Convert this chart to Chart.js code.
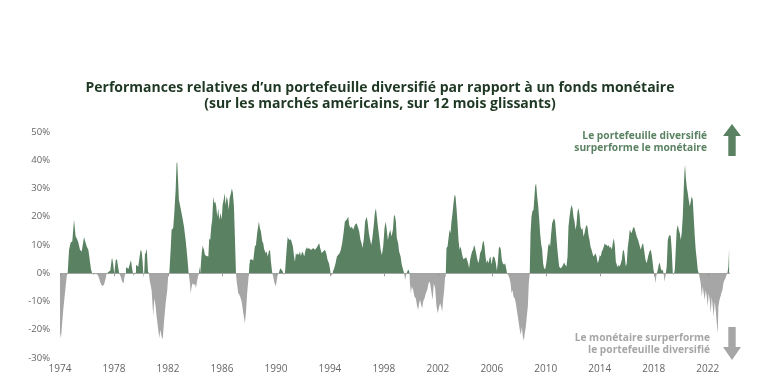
<!DOCTYPE html>
<html>
<head>
<meta charset="utf-8">
<script src="https://cdn.jsdelivr.net/npm/chart.js@4"></script>
<style>
  html, body { margin: 0; padding: 0; background: #fff; }
  #wrap { position: relative; width: 760px; height: 384px; }
  #title {
    position: absolute; left: 0; top: 79px; width: 760px;
    text-align: center; font: 700 14px "Open Sans"; line-height: 16px;
    color: #1e3823;
  }
</style>
</head>
<body>
<div id="wrap">
  <div id="title">Performances relatives d’un portefeuille diversifié par rapport à un fonds monétaire<br>(sur les marchés américains, sur 12 mois glissants)</div>
  <canvas id="chart" width="760" height="384"></canvas>
</div>
<script>
// relative performance (%): [date in decimal years, value]
const readings = [
  [1974.00,-21],[1974.07,-23],[1974.24,-13],[1974.50,-1],[1974.57,0],[1974.67,8.3],[1974.79,10.9],[1974.91,11.2],
  [1975.04,18.9],[1975.16,13],[1975.24,12.4],[1975.36,10.9],[1975.48,8.3],[1975.61,7.7],[1975.78,12.8],[1975.85,11.5],
  [1975.98,9.5],[1976.10,8.3],[1976.17,5.9],[1976.30,1.2],[1976.39,0],[1976.47,-0.6],[1976.59,0],[1976.72,-0.3],
  [1976.84,-1],[1977.01,-3.5],[1977.13,-4.5],[1977.26,-4.1],[1977.39,-1.8],[1977.46,0],[1977.53,0.2],[1977.63,0.6],
  [1977.73,1],[1977.83,5],[1977.87,5.3],[1977.95,3],[1978.02,-0.3],[1978.13,4.7],[1978.22,5],[1978.32,1.8],
  [1978.39,0],[1978.50,-1.2],[1978.61,-3],[1978.72,-3.5],[1978.76,-1.8],[1978.84,0],[1978.89,1.8],[1978.96,2.1],
  [1979.06,1.4],[1979.16,3],[1979.26,4.7],[1979.33,2.1],[1979.41,-0.2],[1979.46,-1],[1979.56,0.2],[1979.63,3],
  [1979.73,2.6],[1979.80,2.4],[1979.90,5.9],[1979.98,8.3],[1980.05,7.7],[1980.13,3.5],[1980.17,0],[1980.20,-1.8],
  [1980.24,0],[1980.30,7.1],[1980.37,8.7],[1980.44,7.7],[1980.52,0.6],[1980.59,0],[1980.64,-2.4],[1980.79,-6],
  [1980.91,-15],[1980.99,-8.9],[1981.09,-11.8],[1981.16,-15.4],[1981.28,-20],[1981.36,-23],[1981.43,-20],[1981.53,-22.5],
  [1981.61,-23.4],[1981.70,-17.7],[1981.83,-10.6],[1981.95,-5.9],[1982.02,-0.6],[1982.10,0],[1982.20,8.3],[1982.27,15.4],
  [1982.39,16],[1982.47,21.3],[1982.57,29.6],[1982.64,39],[1982.69,39.2],[1982.76,31.9],[1982.81,26],[1982.94,23],
  [1983.06,20],[1983.19,16.5],[1983.31,11.8],[1983.43,5.9],[1983.53,0.2],[1983.63,-3.5],[1983.68,-7.1],[1983.76,-4.7],
  [1983.83,-3.5],[1983.93,-4.1],[1984.00,-3.5],[1984.07,-5.3],[1984.15,-3],[1984.22,-1.2],[1984.30,0],[1984.32,2.4],
  [1984.39,0],[1984.50,7.1],[1984.57,9.7],[1984.67,8.3],[1984.74,6.5],[1984.87,6.1],[1984.99,5.9],[1985.06,12.4],
  [1985.13,11.8],[1985.21,16.5],[1985.28,18.9],[1985.36,27.2],[1985.43,24.8],[1985.50,25.4],[1985.58,23.6],[1985.65,20],
  [1985.73,23],[1985.80,18.9],[1985.90,21.3],[1985.98,18.9],[1986.05,24.2],[1986.13,26],[1986.20,28.4],[1986.27,24.2],
  [1986.35,27.2],[1986.42,26],[1986.50,22.5],[1986.57,26.6],[1986.64,27.8],[1986.74,30.1],[1986.81,28.4],[1986.89,23.6],
  [1986.96,13],[1987.04,0],[1987.11,-3.5],[1987.21,-7],[1987.33,-8],[1987.46,-10],[1987.58,-14],[1987.70,-17.7],
  [1987.78,-14],[1987.87,-7],[1987.98,-1],[1988.00,0],[1988.04,3.5],[1988.07,4.7],[1988.20,5],[1988.32,4.5],
  [1988.44,9.5],[1988.52,10],[1988.61,14.2],[1988.74,18.3],[1988.81,16],[1988.89,14.8],[1988.99,11.2],[1989.06,10.6],
  [1989.13,8.5],[1989.24,7.1],[1989.31,7.7],[1989.39,5.9],[1989.48,7.7],[1989.56,8.3],[1989.63,4.1],[1989.73,0],
  [1989.80,-1.2],[1989.87,-3],[1989.98,-4.7],[1990.05,-3],[1990.13,-0.6],[1990.22,0.2],[1990.32,1.8],[1990.42,1.2],
  [1990.50,0.6],[1990.59,-0.6],[1990.67,0],[1990.79,8.3],[1990.87,12.8],[1990.96,12],[1991.04,11.8],[1991.11,12],
  [1991.19,10.6],[1991.26,9.5],[1991.33,6.5],[1991.41,4.1],[1991.48,7.1],[1991.56,6.5],[1991.63,7.1],[1991.70,6.5],
  [1991.78,7.7],[1991.85,6.1],[1991.95,7.7],[1992.02,7.1],[1992.10,5.9],[1992.20,8.3],[1992.30,9.2],[1992.37,8.5],
  [1992.44,8.9],[1992.54,8.5],[1992.64,8.3],[1992.76,8.9],[1992.89,8.3],[1993.01,8.9],[1993.13,10],[1993.21,10.6],
  [1993.28,8.9],[1993.39,7.1],[1993.50,7.7],[1993.63,8.3],[1993.73,7.1],[1993.83,4.7],[1993.93,3.5],[1994.02,1.2],
  [1994.07,-1],[1994.17,-0.3],[1994.22,0.6],[1994.32,1.8],[1994.42,3.5],[1994.52,5.9],[1994.61,6.5],[1994.72,7.1],
  [1994.81,8.3],[1994.91,10.6],[1995.01,14.2],[1995.11,18.3],[1995.24,18.9],[1995.36,20],[1995.43,17.1],[1995.53,16],
  [1995.63,16.5],[1995.73,15.4],[1995.85,17.1],[1995.98,17.7],[1996.10,16],[1996.17,14.8],[1996.27,11.8],[1996.35,10.6],
  [1996.42,8.9],[1996.52,12.4],[1996.61,18.3],[1996.72,20],[1996.79,18.3],[1996.89,14.2],[1996.96,12.4],[1997.06,10],
  [1997.13,11.8],[1997.24,16.5],[1997.33,21.3],[1997.41,23],[1997.48,20],[1997.56,16.5],[1997.65,13],[1997.76,8.3],
  [1997.85,6.5],[1997.95,9.5],[1998.05,16],[1998.13,18.3],[1998.20,16],[1998.30,11.8],[1998.39,14.2],[1998.47,15.4],
  [1998.57,13],[1998.67,15.4],[1998.74,20],[1998.81,20.7],[1998.89,18.3],[1998.96,12.4],[1999.06,10.6],[1999.13,7.7],
  [1999.24,5.9],[1999.33,3],[1999.43,1.2],[1999.50,0],[1999.58,-2.4],[1999.65,-0.6],[1999.76,0.9],[1999.85,1.2],
  [1999.90,0],[1999.93,-3.5],[2000.00,-7.1],[2000.07,-4.7],[2000.17,-5.9],[2000.27,-8.3],[2000.37,-8.9],[2000.47,-11.8],
  [2000.54,-13],[2000.61,-10.6],[2000.69,-9.5],[2000.76,-11.2],[2000.84,-12.4],[2000.91,-10],[2001.01,-8.9],[2001.11,-7.1],
  [2001.21,-5.9],[2001.31,-3.5],[2001.41,-3],[2001.50,-5.9],[2001.61,-9.5],[2001.70,-3.5],[2001.80,-5.3],[2001.90,-11.8],
  [2002.00,-14.2],[2002.10,-11.8],[2002.17,-10.6],[2002.24,-11.8],[2002.32,-13.6],[2002.39,-9.5],[2002.47,-5.9],[2002.54,-1.2],
  [2002.59,0],[2002.64,8.9],[2002.72,9.5],[2002.79,12.4],[2002.87,15.4],[2002.94,14.2],[2003.01,18.3],[2003.09,21.3],
  [2003.16,24.8],[2003.24,27.8],[2003.31,27.2],[2003.39,22.5],[2003.46,17.7],[2003.53,11.8],[2003.61,8.3],[2003.68,9.5],
  [2003.76,7.7],[2003.83,5.9],[2003.90,5],[2004.00,5.3],[2004.10,5.7],[2004.17,4.7],[2004.24,3.5],[2004.32,1.8],
  [2004.39,4.7],[2004.47,6.5],[2004.54,7.7],[2004.61,8.3],[2004.69,10],[2004.76,8.9],[2004.84,7.1],[2004.91,5.3],
  [2004.99,3.5],[2005.06,4.7],[2005.13,7.1],[2005.24,8.3],[2005.31,10.6],[2005.39,11.6],[2005.46,9.5],[2005.53,5.9],
  [2005.61,3.5],[2005.68,4.7],[2005.76,3.5],[2005.83,5.3],[2005.90,5.9],[2005.98,3],[2006.07,5.7],[2006.15,5.9],
  [2006.22,5.3],[2006.30,3.5],[2006.37,0.9],[2006.44,3.5],[2006.52,8.9],[2006.59,9.5],[2006.67,8.3],[2006.74,4.7],
  [2006.81,3.5],[2006.91,3],[2006.99,3.5],[2007.06,1.8],[2007.13,0],[2007.21,-0.6],[2007.31,-1.8],[2007.39,-3.5],
  [2007.46,-7.1],[2007.53,-5.9],[2007.61,-8.3],[2007.70,-8.9],[2007.78,-10.6],[2007.85,-13],[2007.93,-15.4],[2008.00,-17.7],
  [2008.07,-20],[2008.15,-21.8],[2008.22,-18.9],[2008.30,-22.5],[2008.37,-23.9],[2008.44,-21.3],[2008.52,-18.9],[2008.59,-15.4],
  [2008.67,-11.8],[2008.74,-3.5],[2008.81,0],[2008.87,14.2],[2008.94,20],[2009.01,22],[2009.09,22.5],[2009.16,27.2],
  [2009.21,30.7],[2009.28,31.9],[2009.36,27.2],[2009.43,24.2],[2009.50,20],[2009.58,14.2],[2009.65,10.6],[2009.73,8.3],
  [2009.80,3.5],[2009.87,1.8],[2009.95,1.4],[2010.02,3],[2010.10,5.9],[2010.17,9.5],[2010.24,10.6],[2010.32,9.5],
  [2010.39,13.6],[2010.47,17.7],[2010.54,18.7],[2010.61,19.5],[2010.69,18.3],[2010.76,14.2],[2010.84,9.5],[2010.91,5.9],
  [2010.99,2.4],[2011.09,1.8],[2011.19,2.1],[2011.28,3],[2011.36,3.8],[2011.43,3],[2011.53,2.4],[2011.61,5.9],
  [2011.68,16.5],[2011.76,20],[2011.83,22.5],[2011.90,24.2],[2011.98,23],[2012.05,20],[2012.13,18.3],[2012.20,15.4],
  [2012.27,17.1],[2012.35,21.9],[2012.42,23],[2012.50,20.7],[2012.57,16.5],[2012.64,15.4],[2012.72,16],[2012.79,13],
  [2012.87,14.2],[2012.94,16],[2013.01,17.1],[2013.09,16.5],[2013.16,13.6],[2013.24,11.8],[2013.31,9.5],[2013.39,8.3],
  [2013.46,7.1],[2013.53,5.9],[2013.61,6.5],[2013.68,7.1],[2013.76,5.9],[2013.85,3.5],[2013.93,4.7],[2014.00,6.5],
  [2014.07,5.9],[2014.15,7.7],[2014.22,8.3],[2014.30,9.5],[2014.37,10.6],[2014.44,10],[2014.52,10],[2014.59,9.5],
  [2014.67,10],[2014.74,8.9],[2014.81,9.5],[2014.89,8.3],[2014.96,10.6],[2015.04,12.4],[2015.11,10],[2015.19,4.1],
  [2015.26,3],[2015.33,2.1],[2015.41,3],[2015.48,2.4],[2015.56,3.5],[2015.63,4.7],[2015.70,7.7],[2015.78,8.3],
  [2015.85,5.9],[2015.93,2.4],[2016.00,3.5],[2016.07,9],[2016.15,12],[2016.22,15.4],[2016.35,14.2],[2016.47,16],
  [2016.54,16.5],[2016.64,14.8],[2016.74,13],[2016.84,11.8],[2016.94,10],[2017.04,8.3],[2017.13,10],[2017.21,10.6],
  [2017.28,8.3],[2017.39,4.7],[2017.48,3.5],[2017.58,5.9],[2017.68,7.7],[2017.78,8.3],[2017.87,5.9],[2017.98,1.2],
  [2018.05,-0.6],[2018.13,-3.5],[2018.20,-0.6],[2018.30,1.2],[2018.37,3],[2018.44,3.8],[2018.52,1.8],[2018.59,0.9],
  [2018.67,1.2],[2018.74,-0.6],[2018.81,-3],[2018.89,-0.2],[2018.96,2.4],[2019.04,11.8],[2019.11,13],[2019.19,13.6],
  [2019.26,13],[2019.33,8.3],[2019.41,0],[2019.48,-0.6],[2019.56,1.2],[2019.63,8.3],[2019.70,15.4],[2019.78,17.1],
  [2019.85,15.4],[2019.93,14.2],[2020.00,11.8],[2020.07,14.2],[2020.15,20],[2020.22,29.6],[2020.27,35.5],[2020.32,38.4],
  [2020.37,34.3],[2020.44,30.7],[2020.52,28.4],[2020.59,26],[2020.67,23.6],[2020.74,25.4],[2020.81,27.2],[2020.89,26],
  [2020.96,20],[2021.04,13],[2021.11,8.3],[2021.19,4.7],[2021.26,1.2],[2021.33,0],[2021.41,-1.8],[2021.48,-3.5],
  [2021.56,-8.3],[2021.63,-4.7],[2021.70,-7.1],[2021.78,-9.5],[2021.85,-5.9],[2021.93,-8.3],[2022.00,-11.8],[2022.07,-7.1],
  [2022.15,-9.5],[2022.22,-14.2],[2022.30,-8.3],[2022.37,-11.8],[2022.44,-15.4],[2022.52,-10],[2022.59,-13],[2022.67,-17.7],
  [2022.74,-21.3],[2022.79,-11.8],[2022.87,-9.5],[2022.94,-8.3],[2023.01,-7.1],[2023.09,-5.9],[2023.16,-3.5],[2023.24,-2.4],
  [2023.31,-1.8],[2023.39,-0.6],[2023.46,0],[2023.53,2.4],[2023.58,8.3],[2023.61,10]
];

const tickYears = [1974, 1978, 1982, 1986, 1990, 1994, 1998, 2002, 2006, 2010, 2014, 2018, 2022];
const yTicks = [-30, -20, -10, 0, 10, 20, 30, 40, 50];

const upLabel = ['Le portefeuille diversifié', 'surperforme le monétaire'];
const downLabel = ['Le monétaire surperforme', 'le portefeuille diversifié'];

const GREEN = '#5a8262';
const GREY = '#a6a6a6';
const AXIS_TEXT = '#666';

// small ticks on the zero line + the two side notes with arrows
const notesPlugin = {
  id: 'notes',
  afterDatasetsDraw(chart) {
    const { ctx, chartArea, scales } = chart;
    const y0 = scales.y.getPixelForValue(0);

    ctx.save();
    ctx.strokeStyle = '#999';
    ctx.lineWidth = 1;
    tickYears.forEach(v => {
      const x = Math.round(scales.x.getPixelForValue(v)) + 0.5;
      ctx.beginPath();
      ctx.moveTo(x, y0);
      ctx.lineTo(x, y0 + 3);
      ctx.stroke();
    });

    const squeeze = (txt, x, y) => {
      ctx.save();
      ctx.translate(x, y);
      ctx.scale(0.93, 1);
      ctx.fillText(txt, 0, 0);
      ctx.restore();
    };
    ctx.font = '700 11px "Open Sans"';
    ctx.textAlign = 'right';
    ctx.textBaseline = 'middle';

    const xr = chartArea.right - 23;
    const topY = chartArea.top;
    ctx.fillStyle = GREEN;
    squeeze(upLabel[0], xr, topY + 4);
    squeeze(upLabel[1], xr, topY + 16);

    const botY = chartArea.bottom;
    ctx.fillStyle = GREY;
    squeeze(downLabel[0], xr + 3, botY - 20);
    squeeze(downLabel[1], xr + 3, botY - 8);

    // arrows
    const ax = chartArea.right + 2;
    ctx.fillStyle = GREEN;
    ctx.beginPath();
    ctx.moveTo(ax, topY - 8);
    ctx.lineTo(ax + 9, topY + 4);
    ctx.lineTo(ax + 3.7, topY + 4);
    ctx.lineTo(ax + 3.7, topY + 24);
    ctx.lineTo(ax - 3.7, topY + 24);
    ctx.lineTo(ax - 3.7, topY + 4);
    ctx.lineTo(ax - 9, topY + 4);
    ctx.closePath();
    ctx.fill();

    ctx.fillStyle = GREY;
    ctx.beginPath();
    ctx.moveTo(ax, botY + 2);
    ctx.lineTo(ax + 9, botY - 11);
    ctx.lineTo(ax + 3.7, botY - 11);
    ctx.lineTo(ax + 3.7, botY - 31);
    ctx.lineTo(ax - 3.7, botY - 31);
    ctx.lineTo(ax - 3.7, botY - 11);
    ctx.lineTo(ax - 9, botY - 11);
    ctx.closePath();
    ctx.fill();
    ctx.restore();
  }
};

new Chart(document.getElementById('chart'), {
  type: 'line',
  data: {
    datasets: [{
      data: readings.map(([x, y]) => ({ x, y })),
      borderWidth: 0,
      borderColor: 'transparent',
      pointRadius: 0,
      tension: 0,
      fill: { target: { value: 0 }, above: GREEN, below: GREY }
    }]
  },
  options: {
    responsive: false,
    animation: false,
    layout: { padding: { top: 132, right: 30, left: 0, bottom: 0 } },
    plugins: { legend: { display: false }, tooltip: { enabled: false } },
    scales: {
      x: {
        type: 'linear',
        min: 1974,
        max: 2023.65,
        afterBuildTicks: s => { s.ticks = tickYears.map(v => ({ value: v })); },
        afterFit: s => { s.height = 26; },
        grid: { display: false, drawTicks: false },
        border: { display: false },
        ticks: { padding: 5, color: AXIS_TEXT, font: { family: 'Open Sans', size: 10 }, maxRotation: 0, autoSkip: false, callback: v => String(v) }
      },
      y: {
        min: -30,
        max: 50,
        afterBuildTicks: s => { s.ticks = yTicks.map(v => ({ value: v })); },
        afterFit: s => { s.width = 60; },
        grid: { color: c => c.tick && c.tick.value === 0 ? '#a9a9a9' : 'transparent', drawTicks: false },
        border: { display: false },
        ticks: { padding: 10, color: AXIS_TEXT, font: { family: 'Open Sans', size: 9.5 }, callback: v => v + '%' }
      }
    }
  },
  plugins: [notesPlugin]
});
</script>
</body>
</html>
